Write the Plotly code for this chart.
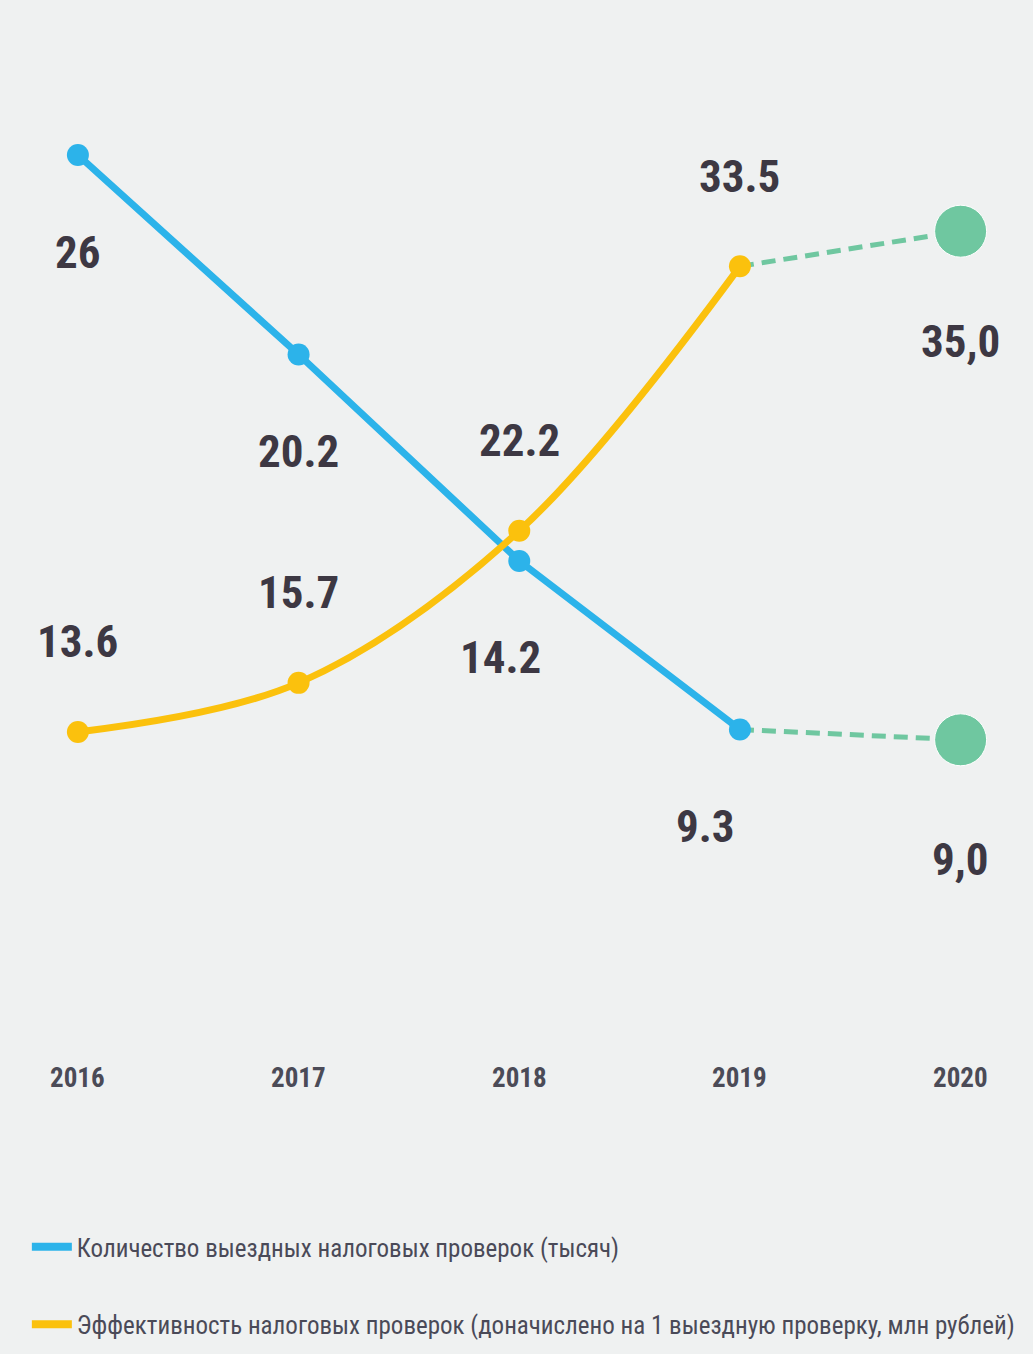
import plotly.graph_objects as go

# ---- data ----
years = [2016, 2017, 2018, 2019]
forecast_years = [2019, 2020]
year_labels = ["2016", "2017", "2018", "2019", "2020"]
tick_years = [2016, 2017, 2018, 2019, 2020]

audits_count = [26, 20.2, 14.2, 9.3]          # тысяч
audits_forecast = [9.3, 9.0]
audits_labels = ["26", "20.2", "14.2", "9.3"]
audits_forecast_label = "9,0"

efficiency = [13.6, 15.7, 22.2, 33.5]          # млн рублей
efficiency_forecast = [33.5, 35.0]
efficiency_labels = ["13.6", "15.7", "22.2", "33.5"]
efficiency_forecast_label = "35,0"

name_count = "Количество выездных налоговых проверок (тысяч)"
name_eff = "Эффективность налоговых проверок (доначислено на 1 выездную проверку, млн рублей)"

# ---- style ----
BLUE = "#2cb3ea"
YELLOW = "#fbc10d"
GREEN = "#6fc7a0"
LABEL = "#3d3843"
YEARC = "#4b4b57"
BG = "#eff1f1"
FONT = "Roboto Condensed, Liberation Sans Narrow, DejaVu Sans Condensed, sans-serif"

fig = go.Figure()

# forecast dashed lines
fig.add_trace(go.Scatter(
    x=forecast_years, y=efficiency_forecast, yaxis="y2",
    mode="lines+markers", line=dict(color=GREEN, width=5, dash="14px,8px"),
    marker=dict(size=[0, 52], color=GREEN, opacity=1), showlegend=False, hoverinfo="skip"))
fig.add_trace(go.Scatter(
    x=forecast_years, y=audits_forecast, yaxis="y",
    mode="lines+markers", line=dict(color=GREEN, width=5, dash="14px,8px"),
    marker=dict(size=[0, 52], color=GREEN, opacity=1), showlegend=False, hoverinfo="skip"))

# main series
fig.add_trace(go.Scatter(
    x=years, y=efficiency, yaxis="y2", mode="lines+markers",
    line=dict(color=YELLOW, width=7, shape="spline", smoothing=1),
    marker=dict(size=22, color=YELLOW), showlegend=False))
fig.add_trace(go.Scatter(
    x=years, y=audits_count, yaxis="y", mode="lines+markers",
    line=dict(color=BLUE, width=7),
    marker=dict(size=22, color=BLUE), showlegend=False))

# legend entries
fig.add_trace(go.Scatter(x=[None], y=[None], mode="lines", name=name_count,
                         line=dict(color=BLUE, width=8), legendgroup="a"))
fig.add_trace(go.Scatter(x=[None], y=[None], mode="lines", name=name_eff,
                         line=dict(color=YELLOW, width=8), legendgroup="b"))

annotations = []
label_font = dict(family=FONT, size=45, color=LABEL, weight="bold")
xshift_count = [0, 0, -19, -34]
for x, v, t, xs in zip(years, audits_count, audits_labels, xshift_count):
    annotations.append(dict(x=x, y=v, xref="x", yref="y", text=t, showarrow=False,
                            font=label_font, yshift=-97, xshift=xs))
annotations.append(dict(x=forecast_years[1], y=audits_forecast[1], xref="x", yref="y",
                        text=audits_forecast_label, showarrow=False, font=label_font,
                        yshift=-120))
for x, v, t in zip(years, efficiency, efficiency_labels):
    annotations.append(dict(x=x, y=v, xref="x", yref="y2", text=t, showarrow=False,
                            font=label_font, yshift=90))
annotations.append(dict(x=forecast_years[1], y=efficiency_forecast[1], xref="x", yref="y2",
                        text=efficiency_forecast_label, showarrow=False, font=label_font,
                        yshift=-110))
for x, t in zip(tick_years, year_labels):
    annotations.append(dict(x=x, y=1 - 1078 / 1354, xref="x", yref="paper", text=t,
                            yanchor="middle", showarrow=False,
                            font=dict(family=FONT, size=27, color=YEARC, weight="bold")))

fig.update_layout(
    width=1033, height=1354,
    margin=dict(l=0, r=0, t=0, b=0),
    paper_bgcolor=BG, plot_bgcolor=BG,
    xaxis=dict(range=[2015.647, 2020.328], visible=False, fixedrange=True),
    yaxis=dict(range=[-8.855, 30.506], visible=False),
    yaxis2=dict(range=[-12.98, 44.88], visible=False, overlaying="y"),
    annotations=annotations,
    legend=dict(x=0.026, y=1 - 1224 / 1354, xanchor="left", yanchor="top",
                font=dict(family=FONT, size=25, color="#4a4a58"),
                bgcolor="rgba(0,0,0,0)", traceorder="grouped", tracegroupgap=42,
                itemwidth=40),
    showlegend=True,
)

fig.write_html("out.html", config={"displayModeBar": False},
               post_script="document.body.style.margin='0';")
